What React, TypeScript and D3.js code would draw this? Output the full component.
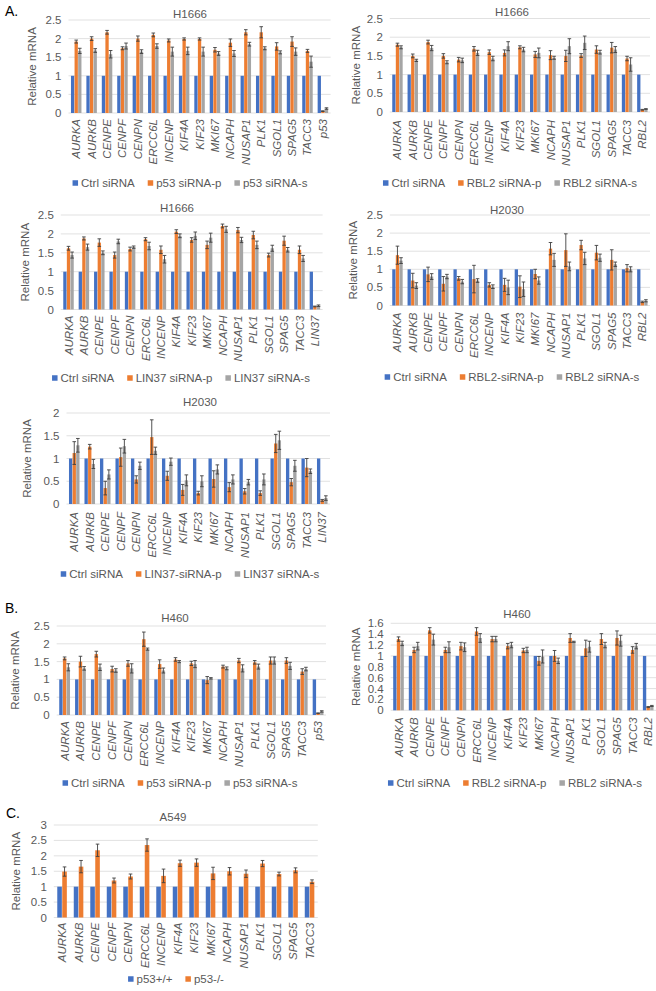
import React from "react";
import * as d3 from "d3";

const FONT = "'Liberation Sans', Arial, sans-serif";
const TXT = "#595959";
const COLORS = ["#4472C4", "#ED7D31", "#A5A5A5"];

const baseGenes = ["AURKA","AURKB","CENPE","CENPF","CENPN","ERCC6L","INCENP","KIF4A","KIF23","MKI67","NCAPH","NUSAP1","PLK1","SGOL1","SPAG5","TACC3"];
const genesP53 = [...baseGenes, "p53"];
const genesRBL2 = [...baseGenes, "RBL2"];
const genesLIN37 = [...baseGenes, "LIN37"];

const ctrl17 = [1,1,1,1,1,1,1,1,1,1,1,1,1,1,1,1,1];
const ctrl16 = [1,1,1,1,1,1,1,1,1,1,1,1,1,1,1,1];

// A: H1666 p53
const h1666P53p = [1.92,2.0,2.17,1.74,2.0,2.1,1.95,1.99,1.99,1.7,1.89,2.17,2.17,1.79,1.92,1.67,0.05];
const h1666P53pErr = [0.04,0.05,0.05,0.04,0.07,0.05,0.04,0.03,0.03,0.06,0.1,0.07,0.15,0.1,0.13,0.04,0.01];
const h1666P53s = [1.67,1.68,1.58,1.8,1.65,1.8,1.65,1.67,1.65,1.6,1.6,1.85,1.74,1.63,1.65,1.38,0.12];
const h1666P53sErr = [0.07,0.05,0.1,0.08,0.05,0.06,0.12,0.1,0.12,0.05,0.08,0.05,0.04,0.04,0.1,0.15,0.02];
// A: H1666 RBL2
const h1666RBL2p = [1.8,1.5,1.87,1.5,1.4,1.69,1.6,1.58,1.73,1.54,1.52,1.5,1.51,1.67,1.72,1.43,0.06];
const h1666RBL2pErr = [0.04,0.05,0.05,0.06,0.06,0.06,0.06,0.08,0.04,0.08,0.12,0.15,0.05,0.1,0.14,0.06,0.01];
const h1666RBL2s = [1.73,1.38,1.71,1.33,1.38,1.58,1.43,1.76,1.67,1.58,1.45,1.76,1.85,1.6,1.67,1.27,0.08];
const h1666RBL2sErr = [0.04,0.03,0.07,0.04,0.06,0.07,0.06,0.12,0.06,0.13,0.04,0.2,0.18,0.05,0.08,0.18,0.01];
// A: H1666 LIN37
const h1666LINp = [1.62,1.88,1.77,1.44,1.6,1.86,1.58,2.06,1.84,1.71,2.21,2.1,1.97,1.44,1.82,1.58,0.08];
const h1666LINpErr = [0.05,0.04,0.1,0.08,0.05,0.04,0.1,0.05,0.06,0.1,0.05,0.07,0.1,0.05,0.12,0.1,0.01];
const h1666LINs = [1.44,1.65,1.5,1.8,1.65,1.68,1.33,1.95,1.95,1.9,2.12,1.84,1.71,1.62,1.58,1.35,0.1];
const h1666LINsErr = [0.08,0.08,0.05,0.06,0.03,0.1,0.1,0.05,0.1,0.12,0.08,0.07,0.1,0.08,0.06,0.08,0.02];
// A: H2030 RBL2
const h2030RBL2p = [1.39,0.69,0.86,0.6,0.75,0.73,0.57,0.57,0.52,0.87,1.57,1.53,1.67,1.46,1.26,1.03,0.1];
const h2030RBL2pErr = [0.25,0.2,0.2,0.2,0.05,0.38,0.06,0.18,0.3,0.13,0.17,0.45,0.13,0.2,0.28,0.1,0.02];
const h2030RBL2s = [1.24,0.55,0.8,0.8,0.66,0.69,0.52,0.5,0.45,0.69,1.26,1.08,1.3,1.32,1.14,1.0,0.13];
const h2030RBL2sErr = [0.08,0.08,0.08,0.06,0.06,0.05,0.05,0.2,0.2,0.1,0.18,0.12,0.17,0.1,0.06,0.07,0.03];
// A: H2030 LIN37
const h2030LINp = [1.12,1.26,0.35,1.03,0.54,1.47,0.62,0.31,0.24,0.55,0.37,0.28,0.24,1.33,0.48,0.8,0.08];
const h2030LINpErr = [0.25,0.05,0.15,0.2,0.08,0.38,0.1,0.12,0.04,0.18,0.1,0.06,0.05,0.2,0.08,0.2,0.02];
const h2030LINs = [1.29,0.88,0.65,1.27,0.84,1.17,0.93,0.52,0.5,0.76,0.54,0.48,0.54,1.4,0.84,0.72,0.13];
const h2030LINsErr = [0.15,0.1,0.1,0.15,0.08,0.08,0.08,0.12,0.12,0.1,0.1,0.06,0.12,0.2,0.12,0.05,0.05];
// B: H460 p53
const h460P53p = [1.59,1.5,1.71,1.29,1.45,2.13,1.43,1.56,1.45,0.98,1.36,1.53,1.48,1.53,1.53,1.22,0.05];
const h460P53pErr = [0.04,0.15,0.08,0.08,0.08,0.2,0.12,0.05,0.06,0.1,0.04,0.06,0.05,0.1,0.08,0.08,0.01];
const h460P53s = [1.34,1.31,1.34,1.25,1.31,1.85,1.25,1.5,1.43,1.03,1.31,1.31,1.36,1.53,1.38,1.29,0.1];
const h460P53sErr = [0.1,0.05,0.09,0.05,0.13,0.03,0.07,0.03,0.1,0.02,0.04,0.1,0.07,0.1,0.1,0.05,0.02];
// B: H460 RBL2
const h460RBL2p = [1.31,1.11,1.47,1.11,1.18,1.45,1.31,1.18,1.1,0.91,1.0,1.33,1.14,1.31,1.33,1.11,0.06];
const h460RBL2pErr = [0.04,0.05,0.05,0.05,0.07,0.07,0.05,0.05,0.04,0.08,0.1,0.08,0.15,0.1,0.13,0.06,0.01];
const h460RBL2s = [1.23,1.18,1.3,1.16,1.16,1.33,1.31,1.2,1.11,0.99,0.91,1.26,1.17,1.2,1.28,1.18,0.08];
const h460RBL2sErr = [0.04,0.07,0.1,0.1,0.08,0.08,0.05,0.05,0.05,0.12,0.05,0.01,0.1,0.05,0.1,0.05,0.01];
// C: A549
const a549KO = [1.49,1.65,2.18,1.2,1.33,2.35,1.35,1.76,1.78,1.43,1.5,1.42,1.75,1.41,1.53,1.16];
const a549KOErr = [0.15,0.2,0.2,0.08,0.08,0.2,0.22,0.1,0.12,0.2,0.12,0.12,0.1,0.06,0.08,0.06];

type Series = { name: string; values: number[]; errors?: number[] };
type PanelCfg = {
  title: string; categories: string[]; series: Series[];
  yMax: number; yStep: number;
  left: number; right: number; yTop: number; y0: number;
  titleX: number; titleY: number; legendY: number; legendCX: number;
  yLabelX: number; labelGap: number; padding: number;
};

let ctx: CanvasRenderingContext2D | null = null;
function textW(s: string, size: number) {
  if (!ctx) ctx = document.createElement("canvas").getContext("2d");
  if (!ctx) return s.length * size * 0.55;
  ctx.font = `${size}px 'Liberation Sans'`;
  return ctx.measureText(s).width;
}

const FS = 11.5;

function Panel({ c }: { c: PanelCfg }) {
  const x = d3.scaleBand<string>().domain(c.categories).range([c.left, c.right]).paddingInner(c.padding).paddingOuter(c.padding / 2);
  const inner = d3.scaleBand<number>().domain(d3.range(c.series.length)).range([0, x.bandwidth()]).paddingInner(0.08);
  const y = d3.scaleLinear().domain([0, c.yMax]).range([c.y0, c.yTop]);
  const ticks = d3.range(0, c.yMax + 1e-9, c.yStep);
  const fmt = (v: number) => String(+v.toFixed(1));
  const sq = 5.5, gapT = 3, gapI = 13;
  const widths = c.series.map(s => sq + gapT + textW(s.name, FS));
  const total = d3.sum(widths) + gapI * (c.series.length - 1);
  let lx = c.legendCX - total / 2;
  const legendPos = widths.map(w => { const p = lx; lx += w + gapI; return p; });
  return (
    <g>
      {ticks.map(t => (
        <g key={t}>
          <line x1={c.left} x2={c.right} y1={y(t)} y2={y(t)} stroke="#d9d9d9" strokeWidth={0.8} />
          <text x={c.left - 7} y={y(t) + 4} textAnchor="end" fontSize={FS} fill={TXT}>{fmt(t)}</text>
        </g>
      ))}
      {c.series.map((s, si) => (
        <g key={s.name}>
          {s.values.map((v, i) => {
            const bx = (x(c.categories[i]) ?? 0) + (inner(si) ?? 0);
            const bw = inner.bandwidth();
            return <rect key={i} x={bx} y={y(v)} width={bw} height={y(0) - y(v)} fill={COLORS[si]} />;
          })}
          {s.errors && s.values.map((v, i) => {
            const e = s.errors![i];
            const cx = (x(c.categories[i]) ?? 0) + (inner(si) ?? 0) + inner.bandwidth() / 2;
            const y1 = y(v + e), y2 = y(Math.max(0, v - e));
            return (
              <g key={"e" + i} stroke="#404040" strokeWidth={0.9}>
                <line x1={cx} x2={cx} y1={y1} y2={y2} />
                <line x1={cx - 1.8} x2={cx + 1.8} y1={y1} y2={y1} />
                <line x1={cx - 1.8} x2={cx + 1.8} y1={y2} y2={y2} />
              </g>
            );
          })}
        </g>
      ))}
      {c.categories.map(cat => {
        const cx = (x(cat) ?? 0) + x.bandwidth() / 2;
        return (
          <text key={cat} transform={`translate(${cx + 4},${c.y0 + c.labelGap}) rotate(-90)`} textAnchor="end" fontSize={FS} fontStyle="italic" fill={TXT}>{cat}</text>
        );
      })}
      <text transform={`translate(${c.yLabelX + 4},${(c.yTop + c.y0) / 2}) rotate(-90)`} textAnchor="middle" fontSize={FS} fill={TXT}>Relative mRNA</text>
      <text x={c.titleX} y={c.titleY + 4} textAnchor="middle" fontSize={FS} fill={TXT}>{c.title}</text>
      {c.series.map((s, si) => (
        <g key={"l" + si}>
          <rect x={legendPos[si]} y={c.legendY - sq / 2} width={sq} height={sq} fill={COLORS[si]} />
          <text x={legendPos[si] + sq + gapT} y={c.legendY + 4} fontSize={FS} fill={TXT}>{s.name}</text>
        </g>
      ))}
    </g>
  );
}

const three = (cats: string[], names: string[], p: number[], pe: number[], s: number[], se: number[]): Pick<PanelCfg, "categories" | "series"> => ({
  categories: cats,
  series: [
    { name: names[0], values: ctrl17 },
    { name: names[1], values: p, errors: pe },
    { name: names[2], values: s, errors: se },
  ],
});

const panels: PanelCfg[] = [
  { title: "H1666", ...three(genesP53, ["Ctrl siRNA", "p53 siRNA-p", "p53 siRNA-s"], h1666P53p, h1666P53pErr, h1666P53s, h1666P53sErr),
    yMax: 2.5, yStep: 0.5, left: 68.5, right: 330.6, yTop: 20, y0: 113, titleX: 190, titleY: 14, legendY: 183, legendCX: 190, yLabelX: 32, labelGap: 6, padding: 0.32 },
  { title: "H1666", ...three(genesRBL2, ["Ctrl siRNA", "RBL2 siRNA-p", "RBL2 siRNA-s"], h1666RBL2p, h1666RBL2pErr, h1666RBL2s, h1666RBL2sErr),
    yMax: 2.5, yStep: 0.5, left: 389.8, right: 650, yTop: 18.5, y0: 112, titleX: 512, titleY: 12, legendY: 183, legendCX: 510, yLabelX: 356, labelGap: 8, padding: 0.32 },
  { title: "H1666", ...three(genesLIN37, ["Ctrl siRNA", "LIN37 siRNA-p", "LIN37 siRNA-s"], h1666LINp, h1666LINpErr, h1666LINs, h1666LINsErr),
    yMax: 2.5, yStep: 0.5, left: 60.8, right: 322.6, yTop: 215, y0: 309.5, titleX: 177, titleY: 208, legendY: 378, legendCX: 181, yLabelX: 25, labelGap: 6, padding: 0.32 },
  { title: "H2030", ...three(genesRBL2, ["Ctrl siRNA", "RBL2-siRNA-p", "RBL2 siRNA-s"], h2030RBL2p, h2030RBL2pErr, h2030RBL2s, h2030RBL2sErr),
    yMax: 2.5, yStep: 0.5, left: 389.8, right: 650, yTop: 215, y0: 305.5, titleX: 507, titleY: 210, legendY: 377, legendCX: 512, yLabelX: 353, labelGap: 7, padding: 0.32 },
  { title: "H2030", ...three(genesLIN37, ["Ctrl siRNA", "LIN37-siRNA-p", "LIN37 siRNA-s"], h2030LINp, h2030LINpErr, h2030LINs, h2030LINsErr),
    yMax: 2, yStep: 0.5, left: 66.5, right: 330, yTop: 413, y0: 504, titleX: 200, titleY: 402, legendY: 574, legendCX: 190, yLabelX: 27, labelGap: 8, padding: 0.32 },
  { title: "H460", ...three(genesP53, ["Ctrl siRNA", "p53 siRNA-p", "p53 siRNA-s"], h460P53p, h460P53pErr, h460P53s, h460P53sErr),
    yMax: 2.5, yStep: 0.5, left: 56.7, right: 326, yTop: 626, y0: 715, titleX: 175, titleY: 618, legendY: 783, legendCX: 180, yLabelX: 15, labelGap: 6, padding: 0.32 },
  { title: "H460", ...three(genesRBL2, ["Ctrl siRNA", "RBL2 siRNA-p", "RBL2 siRNA-s"], h460RBL2p, h460RBL2pErr, h460RBL2s, h460RBL2sErr),
    yMax: 1.6, yStep: 0.2, left: 390.7, right: 656, yTop: 623.3, y0: 710.3, titleX: 517, titleY: 614, legendY: 783, legendCX: 515, yLabelX: 356, labelGap: 7, padding: 0.32 },
  { title: "A549", categories: baseGenes,
    series: [{ name: "p53+/+", values: ctrl16 }, { name: "p53-/-", values: a549KO, errors: a549KOErr }],
    yMax: 3, yStep: 0.5, left: 53.8, right: 317.8, yTop: 825, y0: 917.5, titleX: 173, titleY: 817, legendY: 979, legendCX: 176, yLabelX: 16, labelGap: 5, padding: 0.42 },
];

export default function App() {
  return (
    <svg width={656} height={991} style={{ position: "absolute", left: 0, top: 0, background: "#fff" }} fontFamily={FONT}>
      <rect width={656} height={991} fill="#fff" />
      <text x={5} y={16} fontSize={14} fill="#000">A.</text>
      <text x={5} y={613} fontSize={14} fill="#000">B.</text>
      <text x={6} y={818} fontSize={14} fill="#000">C.</text>
      {panels.map((c, i) => <Panel key={i} c={c} />)}
    </svg>
  );
}
